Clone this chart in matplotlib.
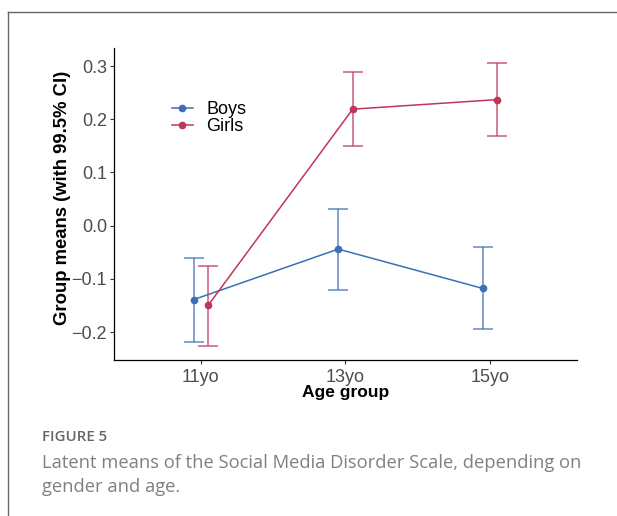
import matplotlib.pyplot as plt
from matplotlib.lines import Line2D

# data
groups = ['11yo', '13yo', '15yo']
boys_mean = [-0.139, -0.044, -0.118]
boys_low = [-0.219, -0.120, -0.195]
boys_high = [-0.060, 0.031, -0.041]
girls_mean = [-0.150, 0.219, 0.237]
girls_low = [-0.226, 0.150, 0.168]
girls_high = [-0.076, 0.288, 0.306]

blue = '#3b6fb6'
red = '#c0365a'

plt.rcParams['font.family'] = ['Liberation Sans', 'DejaVu Sans']

fig = plt.figure(figsize=(6.17, 5.16), dpi=100)
ax = fig.add_axes([0.1848, 0.3023, 0.7502, 0.6047])

pos = range(1, len(groups) + 1)
dodge = 0.05
for means, lo, hi, col, lab, off in [
        (boys_mean, boys_low, boys_high, blue, 'Boys', -dodge),
        (girls_mean, girls_low, girls_high, red, 'Girls', dodge)]:
    x = [p + off for p in pos]
    yerr = [[m - l for m, l in zip(means, lo)], [h - m for m, h in zip(means, hi)]]
    ax.errorbar(x, means, yerr=yerr, fmt='none', ecolor=col, elinewidth=1.2,
                capsize=7.5, capthick=1.2, alpha=0.75)
    ax.plot(x, means, color=col, lw=1.1, marker='o', ms=4.5, label=lab)

ax.set_xlim(0.4, 3.6)
ax.set_ylim(-0.2525, 0.334)
ax.set_xticks(list(pos))
ax.set_xticklabels(groups)
ax.set_yticks([-0.2, -0.1, 0.0, 0.1, 0.2, 0.3])
ax.set_yticklabels(['\u22120.2', '\u22120.1', '0.0', '0.1', '0.2', '0.3'])
ax.tick_params(labelsize=13, colors='#333333', length=3, width=0.8,
               labelcolor='#4d4d4d', pad=2)
ax.tick_params(axis='x', pad=3.5)
for s in ['top', 'right']:
    ax.spines[s].set_visible(False)
for s in ['left', 'bottom']:
    ax.spines[s].set_linewidth(0.9)
ax.set_xlabel('Age group', fontsize=12.5, fontweight='bold', labelpad=-0.5)
ax.set_ylabel('Group means (with 99.5% CI)', fontsize=13.3, fontweight='bold', labelpad=0)
ax.yaxis.set_label_coords(-0.094, 0.52)

ax.legend(loc='upper left', bbox_to_anchor=(0.125, 0.83), frameon=False,
          fontsize=13, handlelength=1.15, handletextpad=0.75,
          labelspacing=0.0, borderpad=0, borderaxespad=0)

# card frame around the figure
fig.add_artist(Line2D([8 / 617, 8 / 617], [0, 1 - 12 / 516], color='#666666', lw=1))
fig.add_artist(Line2D([8 / 617, 1], [1 - 12 / 516, 1 - 12 / 516], color='#666666', lw=1))

fig.text(42 / 617, 1 - 437 / 516, 'FIGURE 5', fontsize=10.8, color='#666666',
         fontweight='semibold', family=['Open Sans', 'DejaVu Sans'], va='center')
fig.text(42 / 617, 1 - 475 / 516,
         'Latent means of the Social Media Disorder Scale, depending on\ngender and age.',
         fontsize=13.2, color='#808080', family=['Open Sans', 'DejaVu Sans'],
         va='center', linespacing=1.42)

fig.savefig('out.png', dpi=100)
